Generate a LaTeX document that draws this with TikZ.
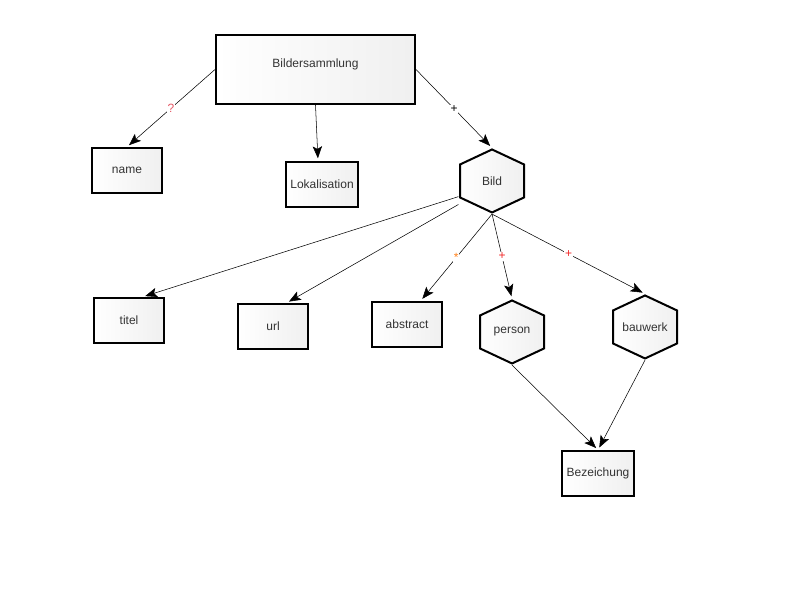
\documentclass[tikz,border=0pt]{standalone}
\usepackage{fontspec}
\setmainfont{Liberation Sans}
\usepackage{tikz}
\usetikzlibrary{positioning,arrows.meta}
\definecolor{txtgray}{rgb}{0.2, 0.2, 0.2}
\definecolor{cardred}{rgb}{0.95, 0.15, 0.15}
\definecolor{cardqm}{rgb}{0.9, 0.35, 0.4}
\definecolor{cardstar}{rgb}{1.0, 0.5, 0.1}

\begin{document}
\begin{tikzpicture}[x=0.75pt, y=-0.75pt,
			element/.style={rectangle, draw=black, line width=1.5pt, left color=white, right color=black!6, minimum width=52.5pt, minimum height=33.75pt, text=txtgray, font=\fontsize{9}{11}\selectfont},
			root/.style={element, minimum width=149.25pt, minimum height=51.75pt},
			group/.style={rectangle, minimum width=50pt, minimum height=49.25pt, inner sep=0pt, text=txtgray, font=\fontsize{9}{11}\selectfont,
				path picture={
					\draw[line width=1.5pt, left color=white, right color=black!6]
					([yshift=-1pt]path picture bounding box.north)
					-- ([xshift=-1pt, yshift=-12.25pt]path picture bounding box.north east)
					-- ([xshift=-1pt, yshift=12.25pt]path picture bounding box.south east)
					-- ([yshift=1pt]path picture bounding box.south)
					-- ([xshift=1pt, yshift=12.25pt]path picture bounding box.south west)
					-- ([xshift=1pt, yshift=-12.25pt]path picture bounding box.north west)
					-- cycle;
				}},
			card/.style={fill=white, inner sep=0.5pt, font=\fontsize{9}{10}\selectfont},
			link/.style={thin, -{Stealth[length=9pt, width=7pt, inset=2pt]}, shorten >=2pt}
		]
		\useasboundingbox (-315.5,-69.5) rectangle (484.5,530.5);
		\node[root, text depth=10pt] (bsm) {Bildersammlung};
		\node[element] (name) [on grid, below left=75.75pt and 141.4pt of bsm] {name};
		\node[element] (lok) [on grid, below right=86.25pt and 4.9pt of bsm] {Lokalisation};
		\node[group] (bild) [on grid, below right=83.6pt and 132.4pt of bsm] {Bild};
		\node[element] (titel) [on grid, below left=104.6pt and 272.25pt of bild] {titel};
		\node[element] (url) [on grid, below right=4.5pt and 108pt of titel] {url};
		\node[element] (abstract) [on grid, above right=1.5pt and 100.5pt of url] {abstract};
		\node[group] (person) [on grid, below right=113.25pt and 15pt of bild] {person};
		\node[group] (bauwerk) [on grid, above right=3.75pt and 99.75pt of person] {bauwerk};
		\node[element] (bez) [on grid, below right=106.1pt and 64.5pt of person] {Bezeichung};

		\path[link]
		(bsm.west) edge node[card, midway, text=cardqm] {?} (name.north)
		(bsm.south) edge ([xshift=-3pt]lok.north)
		(bsm.east) edge node[card, midway, text=black] {+} (bild.north)
		(bild.205) edge (titel.60)
		(bild.215) edge (url.60)
		(bild.south) edge node[card, midway, text=cardstar] {*} (abstract.60)
		(bild.south) edge node[card, midway, text=cardred] {+} (person.north)
		(bild.south) edge node[card, midway, text=cardred] {+} (bauwerk.north)
		(person.south) edge (bez.north)
		(bauwerk.south) edge (bez.north)
		;
\end{tikzpicture}
\end{document}
